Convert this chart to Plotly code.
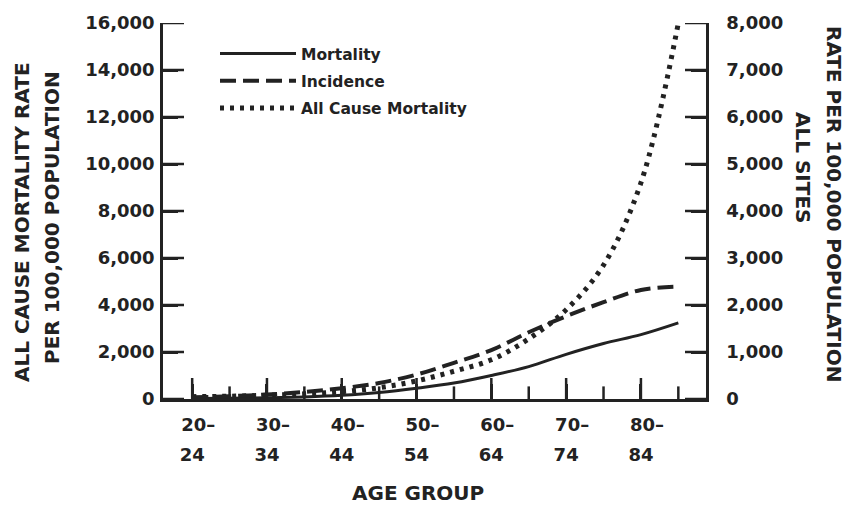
import plotly.graph_objects as go

# ---- data ----
ages = [20, 25, 30, 35, 40, 45, 50, 55, 60, 65, 70, 75, 80, 85]
all_cause_mortality = [100, 120, 160, 220, 310, 480, 770, 1180, 1670, 2560, 3800, 5700, 9200, 16000]
incidence = [35, 60, 95, 150, 230, 340, 520, 770, 1040, 1420, 1760, 2060, 2320, 2390]
mortality = [10, 15, 25, 45, 80, 140, 230, 340, 500, 690, 950, 1180, 1370, 1620]

major_ticks = [20, 30, 40, 50, 60, 70, 80]
minor_ticks = [25, 35, 45, 55, 65, 75, 85]
tick_line1 = ["20–", "30–", "40–", "50–", "60–", "70–", "80–"]
tick_line2 = ["24", "34", "44", "54", "64", "74", "84"]
left_ticks = [0, 2000, 4000, 6000, 8000, 10000, 12000, 14000, 16000]
right_ticks = [0, 1000, 2000, 3000, 4000, 5000, 6000, 7000, 8000]

# ---- layout geometry ----
W, H = 851, 510
X0, X1, Y0, Y1 = 163, 706, 23, 399  # plot area in px (left, right, top, bottom)
INK = "#222222"
FONT = "DejaVu Sans"
xr = [16.1, 88.7]


def px(x):
    return (x - X0) / (X1 - X0)


def py(y):
    return (Y1 - y) / (Y1 - Y0)


fig = go.Figure()

fig.add_trace(go.Scatter(
    x=ages, y=mortality, name="Mortality", mode="lines", legendgroup="a",
    line=dict(color=INK, width=3, shape="spline"), xaxis="x2", yaxis="y2"))
fig.add_trace(go.Scatter(
    x=ages, y=incidence, name="Incidence", mode="lines", legendgroup="b",
    line=dict(color=INK, width=4, dash="16px,7px", shape="spline"),
    xaxis="x3", yaxis="y2"))
fig.add_trace(go.Scatter(
    x=ages, y=all_cause_mortality, name="All Cause Mortality", mode="lines",
    legendgroup="c",
    line=dict(color=INK, width=5, dash="4px,6px", shape="spline"),
    xaxis="x", yaxis="y"))


# inward tick marks: line markers centred on the axis line, outer half clipped
def tick_trace(xs, ys, symbol, size, yaxis="y"):
    return go.Scatter(x=xs, y=ys, mode="markers", showlegend=False, hoverinfo="skip",
                      cliponaxis=True, xaxis="x", yaxis=yaxis,
                      marker=dict(symbol=symbol, size=size, color=INK,
                                  line=dict(width=2.5, color=INK)))


fig.add_trace(tick_trace(major_ticks, [0] * len(major_ticks), "line-ns", 30))
fig.add_trace(tick_trace(minor_ticks, [0] * len(minor_ticks), "line-ns", 18))
fig.add_trace(tick_trace([xr[0]] * len(left_ticks), left_ticks, "line-ew", 30))
fig.add_trace(tick_trace([xr[1]] * len(right_ticks), right_ticks, "line-ew", 30,
                         yaxis="y2"))

tickfont = dict(family=FONT, size=18, color=INK, weight="bold")
plain = dict(showgrid=False, zeroline=False)

fig.update_layout(
    width=W, height=H,
    margin=dict(l=X0, r=W - X1, t=Y0, b=H - Y1, pad=0),
    paper_bgcolor="white", plot_bgcolor="white",
    font=dict(family=FONT, size=20, color=INK, weight="bold"),
    showlegend=True,
    legend=dict(x=px(215), y=py(37), xanchor="left", yanchor="top",
                bgcolor="rgba(0,0,0,0)", itemwidth=76,
                font=dict(family=FONT, size=15.5, color=INK, weight="bold"),
                traceorder="grouped", tracegroupgap=4),
    # axis line + first label line
    xaxis=dict(range=xr, tickmode="array", tickvals=major_ticks, ticktext=tick_line1,
               ticks="inside", ticklen=15, tickwidth=2.5, tickcolor=INK,
               showline=True, linecolor=INK, linewidth=2.5,
               ticklabelstandoff=8, ticklabelshift=6, tickfont=tickfont, **plain),
    xaxis2=dict(range=xr, overlaying="x", anchor="y", side="bottom",
                tickmode="array", tickvals=minor_ticks, showticklabels=False,
                ticks="", showline=False, **plain),
    # second label line
    xaxis3=dict(range=xr, overlaying="x", anchor="y", side="bottom",
                tickmode="array", tickvals=major_ticks, ticktext=tick_line2,
                ticks="", showline=False, ticklabelstandoff=43,
                tickfont=tickfont, **plain),
    yaxis=dict(range=[0, 16000], tickmode="array", tickvals=left_ticks,
               tickformat=",", ticks="inside", ticklen=15, tickwidth=2.5,
               tickcolor=INK, showline=True, linecolor=INK, linewidth=2.5,
               ticklabelstandoff=2, tickfont=tickfont, **plain),
    yaxis2=dict(range=[0, 8000], overlaying="y", side="right", anchor="x",
                tickmode="array", tickvals=right_ticks, tickformat=",",
                ticks="inside", ticklen=15, tickwidth=2.5, tickcolor=INK,
                showline=True, linecolor=INK, linewidth=2.5,
                ticklabelstandoff=14, tickfont=tickfont, **plain),
)

ann = [
    dict(text="ALL CAUSE MORTALITY RATE", x=px(22), y=py(222), textangle=-90),
    dict(text="PER 100,000 POPULATION", x=px(52), y=py(218), textangle=-90),
    dict(text="RATE PER 100,000 POPULATION", x=px(834), y=py(204), textangle=90),
    dict(text="ALL SITES", x=px(803), y=py(167), textangle=90),
    dict(text="AGE GROUP", x=px(418), y=py(493), textangle=0),
]
for a in ann:
    fig.add_annotation(xref="paper", yref="paper", xanchor="center", yanchor="middle",
                       showarrow=False, font=dict(family=FONT, size=20, color=INK,
                                                  weight="bold"), **a)

fig.write_html("out.html")
